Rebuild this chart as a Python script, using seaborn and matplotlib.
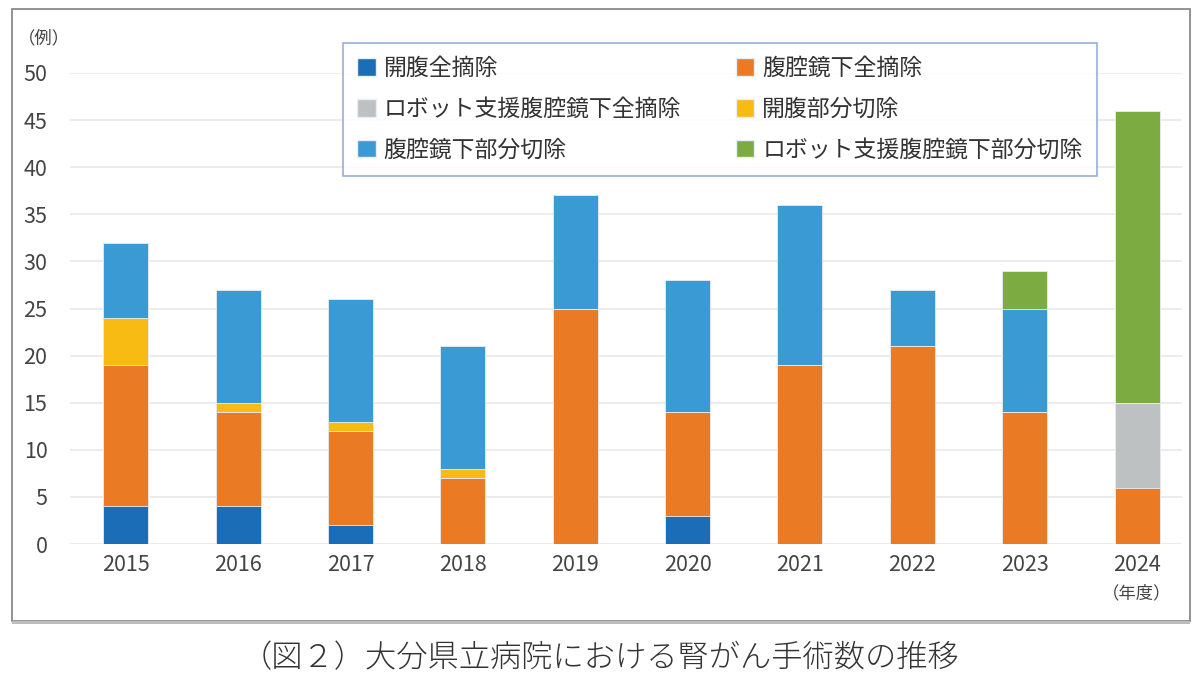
"""大分県立病院 腎がん手術数の推移: stacked bar chart."""
import matplotlib
matplotlib.use("Agg")
import matplotlib.pyplot as plt
from matplotlib.patches import Rectangle, Patch
import seaborn as sns
import pandas as pd
import numpy as np

years = ["2015", "2016", "2017", "2018", "2019", "2020", "2021", "2022", "2023", "2024"]
series_names = [
    "開腹全摘除",
    "腹腔鏡下全摘除",
    "ロボット支援腹腔鏡下全摘除",
    "開腹部分切除",
    "腹腔鏡下部分切除",
    "ロボット支援腹腔鏡下部分切除",
]
open_total = [4, 4, 2, 0, 0, 3, 0, 0, 0, 0]
lap_total = [15, 10, 10, 7, 25, 11, 19, 21, 14, 6]
robot_total = [0, 0, 0, 0, 0, 0, 0, 0, 0, 9]
open_partial = [5, 1, 1, 1, 0, 0, 0, 0, 0, 0]
lap_partial = [8, 12, 13, 13, 12, 14, 17, 6, 11, 0]
robot_partial = [0, 0, 0, 0, 0, 0, 0, 0, 4, 31]
colors = ["#1C6DB7", "#EB7A25", "#BEC1C2", "#F8BB14", "#3A9AD4", "#7CAC41"]

sns.set_theme(style="white")
plt.rcParams["font.family"] = ["Noto Sans CJK JP", "DejaVu Sans"]

values = [open_total, lap_total, robot_total, open_partial, lap_partial, robot_partial]
cum = np.cumsum(np.array(values), axis=0)

fig = plt.figure(figsize=(12, 6.82), dpi=100)
ax = fig.add_axes([0.058, 0.2023, 0.927, 0.6907])

# draw cumulative bars from the top layer down so each layer shows its own slice
for i in range(len(series_names) - 1, -1, -1):
    df = pd.DataFrame({"year": years, "value": cum[i]})
    sns.barplot(data=df, x="year", y="value", color=colors[i], saturation=1,
                width=0.4, edgecolor="#e8eef5", linewidth=0.6, ax=ax, zorder=3)

ax.set_ylim(0, 50)
ax.set_yticks(range(0, 51, 5))
ax.set_xlim(-0.5, 9.4)
ax.grid(axis="y", color="#e9e9e9", linewidth=1.2, zorder=0)
ax.set_axisbelow(True)
for s in ax.spines.values():
    s.set_visible(False)
ax.set_xlabel("")
ax.set_ylabel("")
ax.tick_params(axis="both", length=0, labelsize=15.5, colors="#444444")
ax.tick_params(axis="y", pad=16)
ax.tick_params(axis="x", pad=7)
for lbl in ax.get_yticklabels():
    lbl.set_horizontalalignment("right")

fig.text(44 / 1200, 1 - 38 / 682, "（例）", fontsize=12.5, color="#444444",
         ha="center", va="center")
fig.text(1137 / 1200, 1 - 593 / 682, "（年度）", fontsize=12.5, color="#444444",
         ha="center", va="center")

# legend: 2 columns, row order as in the figure
order = [0, 2, 4, 1, 3, 5]
handles = [Patch(facecolor=colors[i], edgecolor="#e8eef5", label=series_names[i]) for i in order]
leg = fig.legend(handles=handles, ncol=2, loc="upper left",
                 bbox_to_anchor=(343 / 1200, 1 - 43 / 682),
                 fontsize=16.5, frameon=True, fancybox=False,
                 edgecolor="#7D9BD0", borderpad=0.62, labelspacing=0.77,
                 columnspacing=2.4, handlelength=0.8, handleheight=0.8,
                 handletextpad=0.35, borderaxespad=0)
leg.get_frame().set_linewidth(1.2)
for t in leg.get_texts():
    t.set_color("#333333")

# outer frame
fig.patches.append(Rectangle((12 / 1200, 1 - 621 / 682), 1178 / 1200, 612 / 682,
                             transform=fig.transFigure, fill=False,
                             edgecolor="#8a8a8a", linewidth=1.3))
fig.patches.append(Rectangle((12 / 1200, 1 - 624 / 682), 1178 / 1200, 3 / 682,
                             transform=fig.transFigure, facecolor="#bdbdbd",
                             edgecolor="none"))

fig.text(0.5, 1 - 658 / 682, "（図２）大分県立病院における腎がん手術数の推移",
         fontsize=22.5, fontweight="light", color="#333333", ha="center", va="center")

fig.savefig("out.png", dpi=100)
